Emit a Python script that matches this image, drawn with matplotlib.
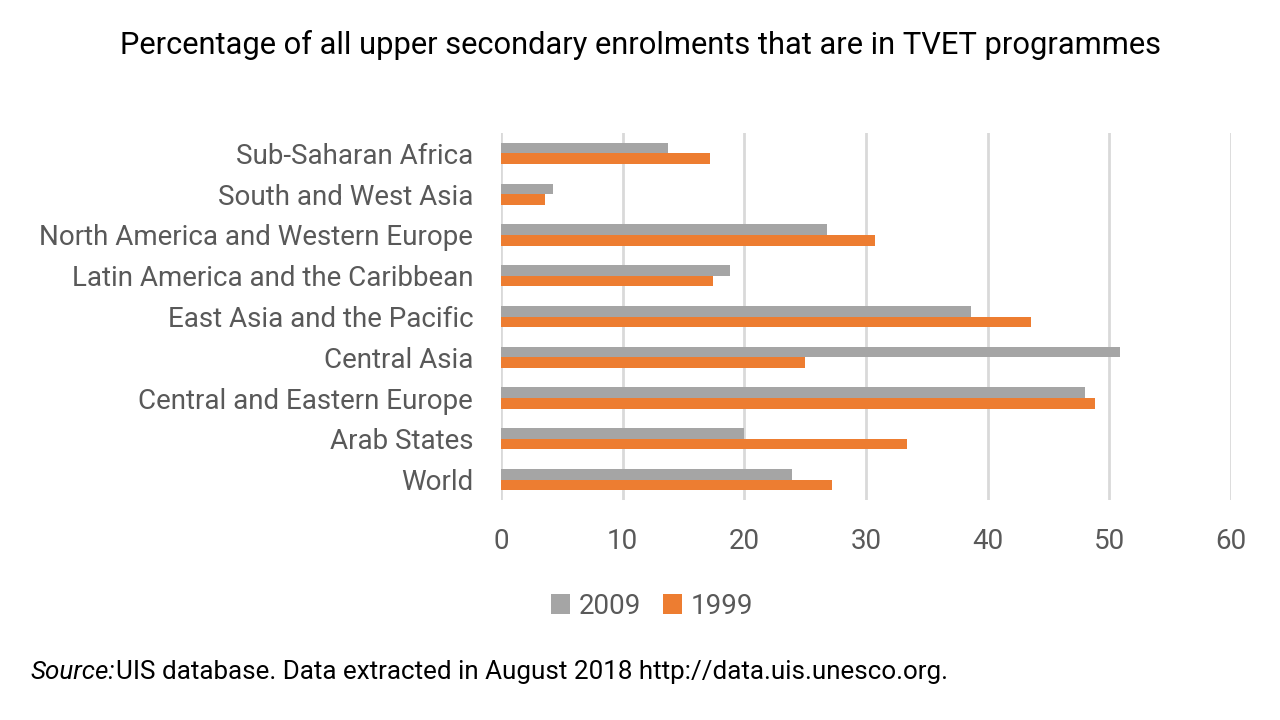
import matplotlib.pyplot as plt
import numpy as np
from matplotlib import font_manager

regioes = ['Sub-Saharan Africa', 'South and West Asia', 'North America and Western Europe',
           'Latin America and the Caribbean', 'East Asia and the Pacific', 'Central Asia',
           'Central and Eastern Europe', 'Arab States', 'World']
valores_2009 = [13.7, 4.3, 26.8, 18.8, 38.6, 50.9, 48.0, 20.0, 23.9]
valores_1999 = [17.2, 3.6, 30.7, 17.4, 43.6, 25.0, 48.8, 33.4, 27.2]
ticks_x = [0, 10, 20, 30, 40, 50, 60]

nomes = {f.name for f in font_manager.fontManager.ttflist}
candidatas = ['Roboto', 'Liberation Sans', 'DejaVu Sans']
fonte = [c for c in candidatas if c in nomes][0]
plt.rcParams['font.family'] = [fonte, 'DejaVu Sans']

cinza = '#a5a5a5'
laranja = '#ed7d31'
texto = '#595959'

fig = plt.figure(figsize=(12.8, 7.2), dpi=100)
ax = fig.add_axes([501 / 1280, 1 - 500 / 720, 730 / 1280, 367 / 720])

y = np.arange(len(regioes))
altura = 0.26
ax.barh(y - altura / 2, valores_2009, height=altura, color=cinza, label='2009', zorder=3)
ax.barh(y + altura / 2, valores_1999, height=altura, color=laranja, label='1999', zorder=3)

ax.set_ylim(len(regioes) - 0.5, -0.5)
ax.set_xlim(0, 60)
ax.set_xticks(ticks_x)
ax.set_yticks(y)
ax.set_yticklabels(regioes)
ax.grid(axis='x', color='#d9d9d9', linewidth=2, zorder=0)
for lado in ['top', 'right', 'bottom', 'left']:
    ax.spines[lado].set_visible(False)
ax.tick_params(axis='both', length=0, labelsize=20, labelcolor=texto)
ax.tick_params(axis='y', pad=20)
ax.tick_params(axis='x', pad=20)

fig.text(641 / 1280, 1 - 45 / 720, 'Percentage of all upper secondary enrolments that are in TVET programmes',
         ha='center', va='center', fontsize=22.2, color='black')

ax.legend(loc='center', bbox_to_anchor=(652 / 1280, 1 - 606 / 720), bbox_transform=fig.transFigure,
          ncol=2, frameon=False, fontsize=20, labelcolor=texto, handlelength=0.7, handleheight=0.7,
          handletextpad=0.3, columnspacing=0.8)

# "Source:" em italico seguido do resto do texto
fonte_txt = fig.text(30 / 1280, 1 - 672 / 720, 'Source:', style='italic', fontsize=18.7, va='center', ha='left')
fig.canvas.draw()
bb = fonte_txt.get_window_extent()
x_resto = fig.transFigure.inverted().transform((bb.x1 + 1, 0))[0]
fig.text(x_resto, 1 - 672 / 720, 'UIS database. Data extracted in August 2018 http://data.uis.unesco.org.',
         fontsize=18.7, va='center', ha='left')

fig.savefig('out.png', dpi=100)
